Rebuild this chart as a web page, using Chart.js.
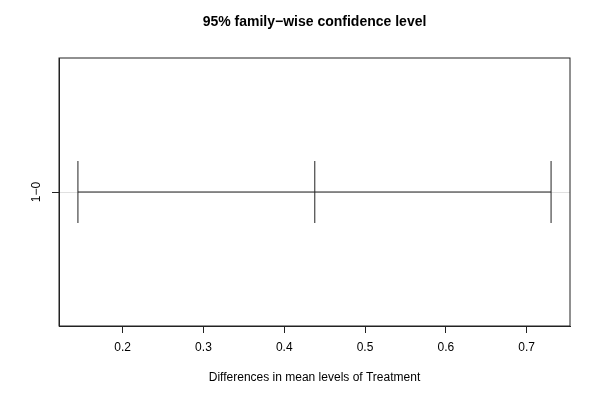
<!DOCTYPE html>
<html>
<head>
<meta charset="utf-8">
<script src="https://cdn.jsdelivr.net/npm/chart.js@4.4.0/dist/chart.umd.min.js"></script>
<style>
  html, body { margin: 0; padding: 0; background: #fff; overflow: hidden; }
  #wrap { width: 599px; height: 400px; }
</style>
</head>
<body>
<div id="wrap"><canvas id="tukeyChart"></canvas></div>
<script>
// Tukey HSD comparison
const comparisons = ['1\u22120'];
const diffs = [0.4378];
const lowers = [0.1446];
const uppers = [0.7303];
const xTickValues = [0.2, 0.3, 0.4, 0.5, 0.6, 0.7];
const mainTitle = '95% family\u2212wise confidence level';

// R style axis limits: data range stretched by 4%
const lo = Math.min(...lowers), hi = Math.max(...uppers);
const pad = (hi - lo) * 0.04;
const yPad = comparisons.length * 0.04;

const fontFamily = '"Liberation Sans", Arial, Helvetica, sans-serif';
const ink = '#222';

// one dataset per comparison: lwr, diff, upr joined by a line
const datasets = comparisons.map((name, i) => ({
    label: name,
    data: [
        { x: lowers[i], y: comparisons.length - i },
        { x: diffs[i], y: comparisons.length - i },
        { x: uppers[i], y: comparisons.length - i },
    ],
    showLine: true,
    borderColor: ink,
    borderWidth: 1,
    pointStyle: 'line',
    rotation: 90,
    pointRadius: 31,
    pointBorderColor: ink,
    pointBorderWidth: 1,
    pointHoverRadius: 31,
}));

// full frame round the plot region, title centred on the plot, rotated y labels
const frameAndLabels = {
    id: 'frameAndLabels',
    afterDraw(chart) {
        const { ctx, chartArea: a, scales } = chart;
        ctx.save();
        ctx.strokeStyle = ink;
        ctx.lineWidth = 1;
        ctx.strokeRect(a.left, a.top, a.right - a.left, a.bottom - a.top);

        ctx.fillStyle = '#000';
        ctx.textAlign = 'center';
        ctx.textBaseline = 'middle';
        ctx.font = 'bold 14px ' + fontFamily;
        ctx.fillText(mainTitle, (a.left + a.right) / 2, 22);

        ctx.font = '12px ' + fontFamily;
        comparisons.forEach((name, i) => {
            const y = scales.y.getPixelForValue(comparisons.length - i);
            ctx.save();
            ctx.translate(37, y);
            ctx.rotate(-Math.PI / 2);
            ctx.fillText(name, 0, 0);
            ctx.restore();
        });
        ctx.restore();
    }
};

new Chart(document.getElementById('tukeyChart'), {
    type: 'scatter',
    data: { datasets },
    plugins: [frameAndLabels],
    options: {
        responsive: true,
        maintainAspectRatio: false,
        animation: false,
        layout: {
            autoPadding: false,
            padding: { left: 0, right: 29, top: 58, bottom: 0 },
        },
        plugins: {
            legend: { display: false },
            tooltip: { enabled: false },
            title: { display: false },
        },
        scales: {
            x: {
                type: 'linear',
                min: lo - pad,
                max: hi + pad,
                afterBuildTicks: (scale) => {
                    scale.ticks = xTickValues.map(v => ({ value: v }));
                },
                afterFit: (scale) => {
                    scale.height = 74;
                    scale.paddingLeft = 0;
                    scale.paddingRight = 0;
                },
                grid: {
                    drawOnChartArea: false,
                    drawTicks: true,
                    tickLength: 7,
                    tickColor: ink,
                },
                border: { display: true, color: ink, width: 1 },
                ticks: {
                    color: '#000',
                    padding: 7,
                    maxRotation: 0,
                    font: { family: fontFamily, size: 12 },
                    callback: (v) => v.toFixed(1),
                },
                title: {
                    display: true,
                    text: 'Differences in mean levels of Treatment',
                    color: '#000',
                    font: { family: fontFamily, size: 12 },
                    padding: { top: 0, bottom: 15 },
                },
            },
            y: {
                type: 'linear',
                min: 0.5 - yPad,
                max: comparisons.length + 0.5 + yPad,
                afterBuildTicks: (scale) => {
                    scale.ticks = comparisons.map((n, i) => ({ value: comparisons.length - i }));
                },
                afterFit: (scale) => { scale.width = 59; },
                grid: {
                    drawOnChartArea: true,
                    drawTicks: true,
                    tickLength: 7,
                    color: '#e0e0e0',
                    lineWidth: 1,
                    tickColor: ink,
                },
                border: { display: true, color: ink, width: 1 },
                ticks: { display: false },
            },
        },
    },
});
</script>
</body>
</html>
